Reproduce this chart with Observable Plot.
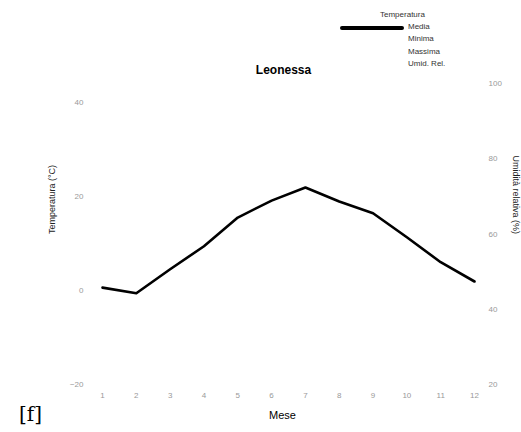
<!DOCTYPE html>
<html>
<head>
<meta charset="utf-8">
<script src="https://cdn.jsdelivr.net/npm/d3@7"></script>
<script src="https://cdn.jsdelivr.net/npm/@observablehq/plot@0.6"></script>
<style>
  html, body { margin: 0; padding: 0; background: #fff; }
  #wrap { position: relative; width: 521px; height: 432px; font-family: "Liberation Sans", Arial, sans-serif; }
  #legend { position: absolute; left: 330px; top: 8px; width: 140px; font-size: 8px; color: #333; }
  #legend .title { position: absolute; left: 50px; top: 2px; }
  #legend .item { position: absolute; left: 78px; }
  #legend .swatch { position: absolute; left: 10px; width: 64px; height: 4px; background: #000; border-radius: 2px; }
  #tag { position: absolute; left: 19px; top: 402px; font-family: "DejaVu Serif", "Liberation Serif", serif; font-size: 20px; color: #000; }
</style>
</head>
<body>
<div id="wrap"></div>
<script>
const months = [1, 2, 3, 4, 5, 6, 7, 8, 9, 10, 11, 12];
const tempMedia = [0.6, -0.6, 4.5, 9.4, 15.5, 19.1, 21.9, 18.9, 16.4, 11.3, 6.0, 1.9];
const tempTicks = [-20, 0, 20, 40];
const humTicks = [20, 40, 60, 80, 100];
const legendTitle = "Temperatura";
const legendLabels = ["Media", "Minima", "Massima", "Umid. Rel."];
const title = "Leonessa";
const xLabel = "Mese";
const yLabel = "Temperatura (°C)";
const y2Label = "Umidità relativa (%)";

// secondary axis: humidity mapped onto the temperature scale
const humToT = h => -20 + (h - 20) * 0.8;
const tToHum = t => Math.round(20 + (t + 20) / 0.8);

const data = months.map((m, i) => ({month: m, temp: tempMedia[i]}));

const chart = Plot.plot({
  width: 521,
  height: 432,
  marginLeft: 102,
  marginRight: 47,
  marginTop: 83,
  marginBottom: 48,
  style: {fontFamily: "Liberation Sans, Arial, sans-serif", background: "transparent"},
  x: {domain: [1, 12]},
  y: {domain: [-20, 44]},
  marks: [
    Plot.axisX({ticks: months, tickSize: 0, tickPadding: 8, fontSize: 8, fill: "#999", label: null}),
    Plot.axisY({ticks: tempTicks, tickSize: 0, tickPadding: 19, fontSize: 8, fill: "#999", label: null}),
    Plot.axisY({anchor: "right", ticks: humTicks.map(humToT), tickFormat: t => String(tToHum(t)), tickSize: 0, tickPadding: 14, fontSize: 8, fill: "#999", label: null}),
    Plot.line(data, {x: "month", y: "temp", stroke: "#000", strokeWidth: 2.6, strokeLinejoin: "round"}),
    Plot.text([title], {frameAnchor: "top", dx: -5, dy: -18, fontSize: 12, fontWeight: "bold", fill: "#000"}),
    Plot.text([xLabel], {frameAnchor: "bottom", dx: -6, dy: 34, fontSize: 11, fill: "#000"}),
    Plot.text([yLabel], {frameAnchor: "left", dx: -50, rotate: -90, fontSize: 9, fill: "#222"}),
    Plot.text([y2Label], {frameAnchor: "right", dx: 41, rotate: 90, fontSize: 9, fill: "#222"})
  ]
});

const wrap = document.getElementById("wrap");
wrap.appendChild(chart);

const legend = document.createElement("div");
legend.id = "legend";
const lt = document.createElement("div");
lt.className = "title";
lt.textContent = legendTitle;
legend.appendChild(lt);
legendLabels.forEach((lab, i) => {
  const it = document.createElement("div");
  it.className = "item";
  it.style.top = (14 + i * 12.3) + "px";
  it.textContent = lab;
  legend.appendChild(it);
  if (i === 0) {
    const sw = document.createElement("div");
    sw.className = "swatch";
    sw.style.top = (18 + i * 12.3) + "px";
    legend.appendChild(sw);
  }
});
wrap.appendChild(legend);

const tag = document.createElement("div");
tag.id = "tag";
tag.textContent = "[f]";
wrap.appendChild(tag);
</script>
</body>
</html>
